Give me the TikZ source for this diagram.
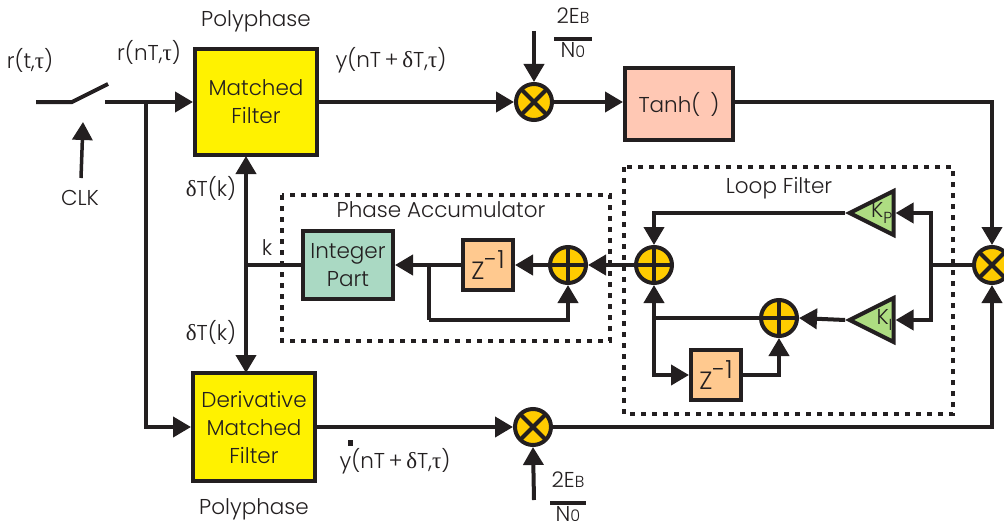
\documentclass[tikz,border=0pt]{standalone}
\usepackage{fontspec}
\setmainfont{Poppins Light}
\newfontfamily\greekfont{Liberation Serif}
\usetikzlibrary{arrows.meta, positioning, shapes.geometric}
\newcommand{\Tau}{{\greekfont\fontsize{23}{28}\selectfont τ}}
\newcommand{\Dlt}{{\greekfont\fontsize{23}{28}\selectfont δ}}
\newcommand{\Sm}[1]{{\fontsize{16}{16}\selectfont #1}}
\newcommand{\Zinv}{{\fontsize{25}{28}\selectfont Z\raisebox{11pt}{-1}}}
\definecolor{inkc}{HTML}{231F20}
\tikzset{
    x=1pt, y=-1pt,
    every node/.style={font=\fontsize{21.5}{28}\selectfont, text=inkc},
    wire/.style={draw=inkc, line width=4pt},
    arr/.style={wire, -{Triangle[length=18pt, width=20pt]}},
    block/.style={draw=inkc, line width=4pt, align=center, inner sep=0pt},
    filterbox/.style={block, fill=yellow, minimum width=122pt},
    delaybox/.style={block, fill=delayc, minimum width=50pt, minimum height=50pt},
    mixer/.style={circle, draw=inkc, line width=4pt, fill=junctc, minimum size=36pt, inner sep=0pt, path picture={
        \draw[inkc, line width=4pt] (path picture bounding box.north east) -- (path picture bounding box.south west);
        \draw[inkc, line width=4pt] (path picture bounding box.north west) -- (path picture bounding box.south east);
    }},
    adder/.style={circle, draw=inkc, line width=4pt, fill=junctc, minimum size=36pt, inner sep=0pt, path picture={
        \draw[inkc, line width=4pt] (path picture bounding box.north) -- (path picture bounding box.south);
        \draw[inkc, line width=4pt] (path picture bounding box.west) -- (path picture bounding box.east);
    }},
    gain/.style={isosceles triangle, isosceles triangle apex angle=53, shape border rotate=180, draw=inkc, line width=4pt, fill=gainc, minimum height=44pt, inner sep=0pt},
    dots/.style={draw=inkc, line width=4.5pt, dash pattern=on 5pt off 6pt},
}
\definecolor{delayc}{HTML}{FFC98F}
\definecolor{junctc}{HTML}{FFCC00}
\definecolor{gainc}{HTML}{AEDD82}
\definecolor{tanhc}{HTML}{FFC8B4}
\definecolor{intc}{HTML}{AAD9C3}

\begin{document}
\begin{tikzpicture}
    \useasboundingbox (0,0) rectangle (1004,527);

    % dotted groups first
    \draw[dots] (282,195) rectangle (610,341);
    \draw[dots] (624,167) rectangle (953,414);

    % blocks
    \node[filterbox, minimum height=106pt] (mf) at (256,102) {Matched\\Filter};
    \node[filterbox, minimum height=108pt] (dmf) at (254,427) {Derivative\\Matched\\Filter};
    \node[block, fill=tanhc, minimum width=108pt, minimum height=72pt] (tanh) at (679,104) {Tanh(\hspace{10pt})};
    \node[block, fill=intc, minimum width=90pt, minimum height=68pt] (ip) at (348,265) {Integer\\Part};
    \node[delaybox] (zpa) at (488,265) {\Zinv};
    \node[delaybox] (zlf) at (716,375) {\Zinv};

    % junctions
    \node[mixer] (mtop) at (534,102) {};
    \node[mixer] (mbot) at (533,427) {};
    \node[mixer] (merr) at (992,265) {};
    \node[adder] (apa) at (568,265) {};
    \node[adder] (alf) at (654,265) {};
    \node[adder] (alow) at (779,318) {};

    % gains
    \node[gain] (kp) at (880,213) {};
    \node[gain] (ki) at (880,320) {};
    \node[left=2pt of kp.lower side, inner sep=1pt] (kplab) {K\raisebox{-6pt}{\Sm{P}}};
    \node[left=2pt of ki.lower side, inner sep=1pt] (kilab) {K\raisebox{-6pt}{\Sm{I}}};

    % free ends and taps
    \coordinate (insrc) at (36,102);
    \coordinate (swl) at (72,102);
    \coordinate (swr) at (108,84);
    \coordinate (swo) at (105,102);
    \coordinate (inbr) at (146,102);
    \coordinate (clkend) at (83,122);
    \coordinate (clksrc) at (81,178);
    \coordinate (tap) at (246,265);
    \coordinate (mftap) at (246,156);
    \coordinate (dmftap) at (246,373);
    \coordinate (fbo) at (429,265);
    \coordinate (fbl) at (429,320);
    \coordinate (errtap) at (931,265);
    \coordinate (lftap) at (654,318);
    \coordinate (ebtop) at (534,31);
    \coordinate (ebbot) at (534,500);

    % connectors
    \draw[wire] (insrc) -- (swl) -- (swr);
    \draw[arr] (swo) -- (mf.west);
    \draw[arr] (inbr) |- (dmf.west);
    \draw[arr, line width=3.5pt] (clksrc) -- (clkend);
    \draw[arr] (mf.east) -- (mtop.west);
    \draw[arr] (mtop.east) -- (tanh.west |- mtop.east);
    \draw[arr] (tanh.east |- mtop.east) -| (merr.north);
    \draw[arr] (dmf.east) -- (mbot.west);
    \draw[arr] (mbot.east) -| (merr.south);
    \draw[arr] (ebtop) -- (mtop.north);
    \draw[arr] (ebbot) -- (mbot.south);
    \draw[wire] (merr.west) -- (errtap);
    \draw[arr] (errtap) |- (kp.lower side);
    \draw[arr] (errtap) |- (ki.lower side);
    \draw[arr] (kp.apex) -| (alf.north);
    \draw[arr] (ki.apex) -- (alow.east);
    \draw[wire] (alow.west) -- (lftap);
    \draw[arr] (lftap) -- (alf.south);
    \draw[arr] (lftap) |- (zlf.west);
    \draw[arr] (zlf.east) -| (alow.south);
    \draw[arr] (alf.west) -- (apa.east);
    \draw[arr] (apa.west) -- (zpa.east);
    \draw[arr] (zpa.west) -- (ip.east);
    \draw[wire] (fbo) -- (fbl);
    \draw[arr] (fbl) -| (apa.south);
    \draw[wire] (ip.west) -- (tap);
    \draw[arr] (tap) -- (mftap);
    \draw[arr] (tap) -- (dmftap);

    % labels
    \node[above=11pt of mf] (pmf) {Polyphase};
    \node[below=12pt of dmf] (pdmf) {Polyphase};
    \node (lrt) at (30,60) {r(t,\Tau)};
    \node (lrn) at (149,52) {r(nT,\Tau)};
    \node (ly) at (391,60) {y(nT\,+\,\Dlt T,\Tau)};
    \node (lyd) at (395,461) {y(nT\,+\,\Dlt T,\Tau)};
    \node[fill=inkc, inner sep=0pt, minimum width=5pt, minimum height=6pt] (ydot) at (350,443) {};
    \node (lclk) at (80,198) {CLK};
    \node (ldt) at (211,188) {\Dlt T(k)};
    \node (ldb) at (211,332) {\Dlt T(k)};
    \node (lk) at (267,248) {k};
    \node (lpa) at (441,210) {Phase Accumulator};
    \node (llf) at (779,188) {Loop Filter};
    \node[align=center, inner sep=0pt] (ebt) at (573,33) {2E\Sm{B}\\[-11pt]\rule{38pt}{4pt}\\[-11pt]N\Sm{0}};
    \node[align=center, inner sep=0pt] (ebb) at (568,497) {2E\Sm{B}\\[-11pt]\rule{36pt}{4pt}\\[-11pt]N\Sm{0}};
\end{tikzpicture}
\end{document}
